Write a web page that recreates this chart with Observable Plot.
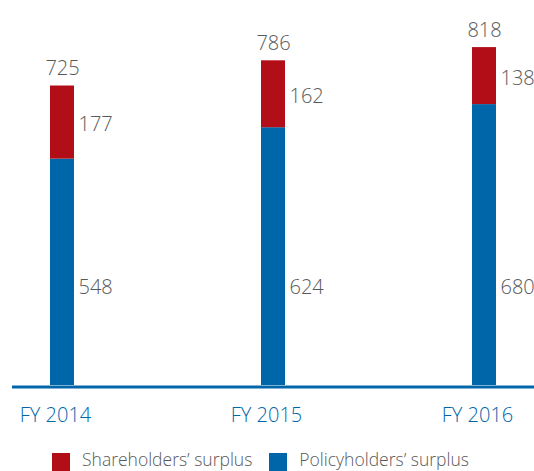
<!DOCTYPE html>
<html><head><meta charset="utf-8">
<script src="https://cdn.jsdelivr.net/npm/d3@7"></script>
<script src="https://cdn.jsdelivr.net/npm/@observablehq/plot@0.6"></script>
<style>
body{margin:0;background:#fff;font-family:"Open Sans",sans-serif;}
#legend{display:flex;align-items:flex-start;padding-left:52px;margin-top:5px;color:#58595b;font-size:17.5px;font-weight:300;line-height:19px;}
.item{display:flex;align-items:flex-start;margin-right:17px;}
.sw{width:18px;height:18px;margin-right:12px;margin-top:3px;}
</style></head><body><div id="chart"></div><div id="legend"></div>
<script>
const years = ["FY 2014", "FY 2015", "FY 2016"];
const policyholders = [548, 624, 680];
const shareholders = [177, 162, 138];
const totals = [725, 786, 818];
const seriesNames = ["Shareholders’ surplus", "Policyholders’ surplus"];
const seriesColors = ["#b20e17", "#0066aa"];

const rows = [];
years.forEach((y, i) => {
  rows.push({year: y, series: seriesNames[1], value: policyholders[i]});
  rows.push({year: y, series: seriesNames[0], value: shareholders[i]});
});
const yearRows = years.map((y, i) => ({year: y, policy: policyholders[i], share: shareholders[i], total: totals[i]}));

const textGray = "#58595b";
const blue = seriesColors[1];

const chart = Plot.plot({
  width: 534, height: 445,
  marginLeft: 12, marginRight: 0, marginTop: 0, marginBottom: 60,
  style: {fontFamily: "'Open Sans', sans-serif", fontSize: "20px", background: "#fff"},
  x: {domain: years, paddingInner: 0.8865, paddingOuter: 0.18, label: null},
  y: {domain: [0, 932], axis: null},
  color: {domain: seriesNames, range: seriesColors},
  marks: [
    Plot.barY(rows, {x: "year", y: "value", fill: "series", order: [seriesNames[1], seriesNames[0]]}),
    Plot.ruleY([0], {stroke: blue, strokeWidth: 3, dy: 1.5}),
    Plot.axisX({tickSize: 0, tickPadding: 22, fontSize: 20, fontWeight: 300, fill: blue, dx: -7, label: null}),
    Plot.text(yearRows, {x: "year", y: "total", text: d => String(d.total), lineAnchor: "bottom", dy: -11, fill: textGray, fontSize: 20, fontWeight: 300}),
    Plot.text(yearRows, {x: "year", y: d => d.policy + d.share / 2, text: d => String(d.share), textAnchor: "start", dx: 16, dy: 2, fill: textGray, fontSize: 20, fontWeight: 300}),
    Plot.text(yearRows, {x: "year", frameAnchor: "bottom", text: d => String(d.policy), textAnchor: "start", dx: 16, dy: -92, fill: textGray, fontSize: 20, fontWeight: 300})
  ]
});
document.getElementById("chart").appendChild(chart);

const legend = document.getElementById("legend");
seriesNames.forEach((name, i) => {
  const item = document.createElement("div");
  item.className = "item";
  const sw = document.createElement("div");
  sw.className = "sw";
  sw.style.background = seriesColors[i];
  const label = document.createElement("span");
  label.textContent = name;
  item.appendChild(sw);
  item.appendChild(label);
  legend.appendChild(item);
});
</script>
</body></html>
